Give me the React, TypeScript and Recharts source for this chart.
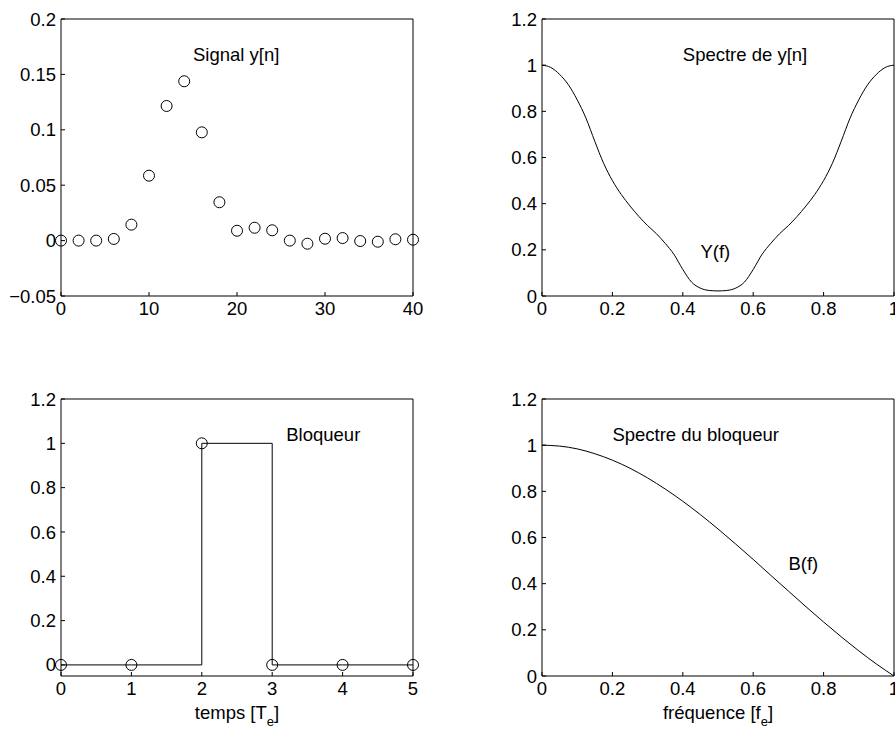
import React from 'react';
import { ComposedChart, Line, XAxis, YAxis, ReferenceDot, Label } from 'recharts';

const FONT = '"Liberation Sans", Arial, Helvetica, sans-serif';
const FS = 18.5;
const INK = '#000';

// y[n], one sample every 2
const sampleIndex = [0, 2, 4, 6, 8, 10, 12, 14, 16, 18, 20, 22, 24, 26, 28, 30, 32, 34, 36, 38, 40];
const signalValues = [
  0, 0, 0, 0.0015, 0.0144, 0.0586, 0.1215, 0.1438, 0.0977, 0.0346, 0.0089,
  0.0116, 0.0093, 0, -0.0028, 0.0017, 0.0023, -0.0004, -0.001, 0.0012, 0.0008,
];

// |Y(f)|
const spectrumFreq = [
  0, 0.025, 0.05, 0.075, 0.1, 0.125, 0.15, 0.175, 0.2, 0.225, 0.25, 0.275, 0.3, 0.325,
  0.35, 0.375, 0.4, 0.425, 0.45, 0.475, 0.5, 0.525, 0.55, 0.575, 0.6, 0.625, 0.65, 0.675,
  0.7, 0.725, 0.75, 0.775, 0.8, 0.825, 0.85, 0.875, 0.9, 0.925, 0.95, 0.975, 1,
];
const spectrumY = [
  1, 0.99, 0.96, 0.915, 0.85, 0.77, 0.67, 0.575, 0.5, 0.44, 0.39, 0.345, 0.305, 0.27,
  0.228, 0.18, 0.115, 0.06, 0.034, 0.024, 0.022, 0.024, 0.034, 0.06, 0.115, 0.18, 0.228, 0.27,
  0.305, 0.345, 0.39, 0.44, 0.5, 0.575, 0.67, 0.77, 0.85, 0.915, 0.96, 0.99, 1,
];

// zero-order hold impulse response
const holdTime = [0, 1, 2, 3, 4, 5];
const holdValues = [0, 0, 1, 0, 0, 0];

// |B(f)|
const holdFreq = [
  0, 0.05, 0.1, 0.15, 0.2, 0.25, 0.3, 0.35, 0.4, 0.45, 0.5,
  0.55, 0.6, 0.65, 0.7, 0.75, 0.8, 0.85, 0.9, 0.95, 1,
];
const holdSpectrum = [
  1, 0.996, 0.984, 0.963, 0.935, 0.9, 0.858, 0.81, 0.757, 0.699, 0.637,
  0.572, 0.505, 0.436, 0.368, 0.3, 0.234, 0.17, 0.109, 0.052, 0,
];

const signalXTicks = [0, 10, 20, 30, 40];
const signalYTicks = [-0.05, 0, 0.05, 0.1, 0.15, 0.2];
const freqTicks = [0, 0.2, 0.4, 0.6, 0.8, 1];
const holdXTicks = [0, 1, 2, 3, 4, 5];
const unitYTicks = [0, 0.2, 0.4, 0.6, 0.8, 1, 1.2];

const fmt = (v: number) => (v < 0 ? '\u2212' + String(-v) : String(v));

const zip = (xs: number[], ys: number[]) => xs.map((x, i) => ({ x, y: ys[i] }));

const tickStyle = { fill: INK, fontSize: FS, fontFamily: FONT };
const labelStyle = { fill: INK, fontSize: FS, fontFamily: FONT };

const AxisTitle = (props: any) => {
  const { viewBox, main, sub } = props;
  const { x, y, width } = viewBox;
  return (
    <text x={x + width / 2} y={y + 43} textAnchor="middle" fill={INK} fontSize={FS} fontFamily={FONT}>
      {main}
      <tspan dy={7} fontSize={13}>{sub}</tspan>
      <tspan dy={-7}>]</tspan>
    </text>
  );
};

type Box = { left: number; top: number; width: number; height: number; yw: number; right: number; xh: number };

// box with inward ticks on all four sides; the top and right axes only carry tick marks
function frame(box: Box, xDomain: number[], xTicks: number[], yDomain: number[], yTicks: number[], title?: [string, string]) {
  return [
    <XAxis key="xb" dataKey="x" type="number" domain={xDomain} ticks={xTicks} interval={0} height={box.xh}
      axisLine={{ stroke: INK }} tickLine={{ stroke: INK }} tickSize={-4} tickMargin={10}
      tick={tickStyle} tickFormatter={fmt}>
      {title && <Label content={<AxisTitle main={title[0]} sub={title[1]} />} />}
    </XAxis>,
    <XAxis key="xt" xAxisId="top" dataKey="x" orientation="top" type="number" domain={xDomain} ticks={xTicks} interval={0}
      height={1} axisLine={{ stroke: INK }} tickLine={{ stroke: INK }} tickSize={-4} tick={false} />,
    <YAxis key="yl" type="number" domain={yDomain} ticks={yTicks} interval={0} width={box.yw}
      axisLine={{ stroke: INK }} tickLine={{ stroke: INK }} tickSize={-4} tickMargin={9}
      tick={tickStyle} tickFormatter={fmt} />,
    <YAxis key="yr" yAxisId="right" orientation="right" type="number" domain={yDomain} ticks={yTicks} interval={0}
      width={1} axisLine={{ stroke: INK }} tickLine={{ stroke: INK }} tickSize={-4} tick={false} />,
  ];
}

const circle = { r: 5.5, fill: 'none', stroke: INK, strokeWidth: 1 };

const note = (x: number, y: number, text: string) => (
  <ReferenceDot x={x} y={y} r={0} fill="none" stroke="none">
    <Label value={text} position="right" offset={0} {...labelStyle} />
  </ReferenceDot>
);

const TL: Box = { left: 0, top: 0, width: 440, height: 330, yw: 61, right: 26, xh: 34 };
const TR: Box = { left: 440, top: 0, width: 455, height: 330, yw: 102, right: 0, xh: 34 };
const BL: Box = { left: 0, top: 380, width: 440, height: 349, yw: 61, right: 26, xh: 53 };
const BR: Box = { left: 440, top: 380, width: 455, height: 349, yw: 102, right: 0, xh: 53 };

function Panel({ box, data, children }: { box: Box; data: any[]; children: React.ReactNode }) {
  return (
    <div style={{ position: 'absolute', left: box.left, top: box.top }}>
      <ComposedChart width={box.width} height={box.height} data={data}
        margin={{ top: 18, right: box.right, bottom: 0, left: 0 }}>
        {children}
      </ComposedChart>
    </div>
  );
}

export default function App() {
  return (
    <div style={{ position: 'absolute', left: 0, top: 0, width: 895, height: 729, background: '#fff', overflow: 'hidden' }}>
      <Panel box={TL} data={zip(sampleIndex, signalValues)}>
        {frame(TL, [0, 40], signalXTicks, [-0.05, 0.2], signalYTicks)}
        <Line dataKey="y" stroke="none" dot={circle} activeDot={false} isAnimationActive={false} />
        {note(15, 0.168, 'Signal y[n]')}
      </Panel>

      <Panel box={TR} data={zip(spectrumFreq, spectrumY)}>
        {frame(TR, [0, 1], freqTicks, [0, 1.2], unitYTicks)}
        <Line dataKey="y" type="monotone" stroke={INK} strokeWidth={1} dot={false} activeDot={false} isAnimationActive={false} />
        {note(0.4, 1.046, 'Spectre de y[n]')}
        {note(0.45, 0.193, 'Y(f)')}
      </Panel>

      <Panel box={BL} data={zip(holdTime, holdValues)}>
        {frame(BL, [0, 5], holdXTicks, [-0.05, 1.2], unitYTicks, ['temps [T', 'e'])}
        <Line dataKey="y" type="stepAfter" stroke={INK} strokeWidth={1} dot={circle} activeDot={false} isAnimationActive={false} />
        {note(3.2, 1.04, 'Bloqueur')}
      </Panel>

      <Panel box={BR} data={zip(holdFreq, holdSpectrum)}>
        {frame(BR, [0, 1], freqTicks, [0, 1.2], unitYTicks, ['fréquence [f', 'e'])}
        <Line dataKey="y" type="monotone" stroke={INK} strokeWidth={1} dot={false} activeDot={false} isAnimationActive={false} />
        {note(0.2, 1.046, 'Spectre du bloqueur')}
        {note(0.7, 0.487, 'B(f)')}
      </Panel>
    </div>
  );
}
